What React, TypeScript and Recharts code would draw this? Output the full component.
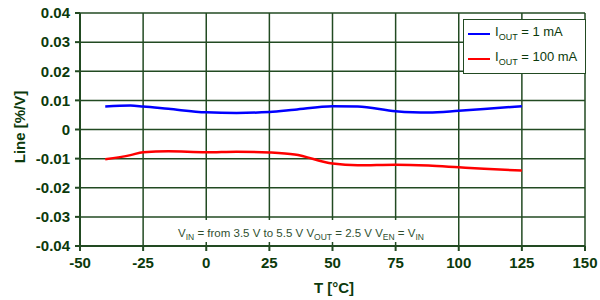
import React from 'react';
import {
    LineChart,
    Line,
    XAxis,
    YAxis,
    CartesianGrid,
    Legend,
    Customized
} from 'recharts';

// temperatures in °C
const temps = [-40, -30, -25, -15, 0, 12, 25, 35, 50, 60, 75, 88, 100, 110, 125];
// line regulation [%/V]
const iout1mA = [0.0079, 0.0082, 0.0079, 0.0071, 0.0059, 0.0057, 0.006, 0.0068, 0.008, 0.0079, 0.0063, 0.0058, 0.0064, 0.007, 0.008];
const iout100mA = [-0.0102, -0.0088, -0.0078, -0.0075, -0.0078, -0.0076, -0.0079, -0.0086, -0.0117, -0.0123, -0.0121, -0.0124, -0.013, -0.0135, -0.0141];

const xTicks = [-50, -25, 0, 25, 50, 75, 100, 125, 150];
const yTicks = [-0.04, -0.03, -0.02, -0.01, 0, 0.01, 0.02, 0.03, 0.04];

const data = temps.map((t, i) => ({ t, a: iout1mA[i], b: iout100mA[i] }));

const GREEN = '#0c3a0c';
const GRID = '#224a22';
const FONT = '"Liberation Sans", Arial, sans-serif';

const fmtY = (v: number) => (v === 0 ? '0' : v.toFixed(2));

const LegendBox = () => (
    <div style={{
        border: `1.5px solid ${GRID}`,
        background: '#fff',
        padding: '2px 8px 2px 4px',
        fontFamily: FONT,
        fontSize: 13,
        color: GREEN,
        lineHeight: '20px'
    }}>
        {[{ c: '#0000ff', v: '1 mA' }, { c: '#ff0000', v: '100 mA' }].map((it) => (
            <div key={it.v} style={{ display: 'flex', alignItems: 'center', whiteSpace: 'nowrap' }}>
                <span style={{ display: 'inline-block', width: 22, height: 2, background: it.c, marginRight: 5 }} />
                <span>I<sub style={{ fontSize: 9 }}>OUT</sub> = {it.v}</span>
            </div>
        ))}
    </div>
);

// conditions note sits on a white patch that breaks the grid
const Note = () => (
    <g fontFamily={FONT}>
        <rect x={160} y={220} width={280} height={22} fill="#fff" />
        <text x={301} y={237} textAnchor="middle" fontSize={11.5} fill="#2f4f2f">
            V<tspan fontSize={8.5} dy={3}>IN</tspan>
            <tspan dy={-3}> = from 3.5 V to 5.5 V V</tspan>
            <tspan fontSize={8.5} dy={3}>OUT</tspan>
            <tspan dy={-3}> = 2.5 V V</tspan>
            <tspan fontSize={8.5} dy={3}>EN</tspan>
            <tspan dy={-3}> = V</tspan>
            <tspan fontSize={8.5} dy={3}>IN</tspan>
        </text>
    </g>
);

const AxisTitles = () => (
    <g fontFamily={FONT}>
        <text x={334} y={293} textAnchor="middle" fontSize={15} fontWeight="bold" fill={GREEN}>T [°C]</text>
        <text x={19} y={127} transform="rotate(-90 19 127)" dominantBaseline="central" textAnchor="middle" fontSize={15} fontWeight="bold" fill={GREEN}>Line [%/V]</text>
    </g>
);

export default function App() {
    return (
        <div style={{ position: 'absolute', left: 0, top: 0, background: '#fff' }}>
            <LineChart width={600} height={300} data={data} margin={{ top: 13, right: 15, bottom: 14, left: 0 }}>
                <CartesianGrid stroke={GRID} strokeWidth={1.5} />
                <Customized component={Note} />
                <XAxis
                    dataKey="t"
                    type="number"
                    domain={[-50, 150]}
                    ticks={xTicks}
                    height={40}
                    tickSize={5}
                    tickMargin={6}
                    stroke={GRID}
                    strokeWidth={2}
                    tick={{ fill: GREEN, fontSize: 15, fontWeight: 'bold', fontFamily: FONT }}
                />
                <YAxis
                    type="number"
                    domain={[-0.04, 0.04]}
                    ticks={yTicks}
                    width={80}
                    tickSize={5}
                    tickMargin={5}
                    tickFormatter={fmtY}
                    stroke={GRID}
                    strokeWidth={2}
                    tick={{ fill: GREEN, fontSize: 15, fontWeight: 'bold', fontFamily: FONT }}
                />
                <Line type="monotone" dataKey="a" stroke="#0000ff" strokeWidth={2.5} dot={false} isAnimationActive={false} />
                <Line type="monotone" dataKey="b" stroke="#ff0000" strokeWidth={2.5} dot={false} isAnimationActive={false} />
                <Legend
                    layout="vertical"
                    align="center"
                    verticalAlign="middle"
                    content={<LegendBox />}
                    wrapperStyle={{ left: 463, top: 19, width: 'auto' }}
                />
                <Customized component={AxisTitles} />
            </LineChart>
        </div>
    );
}
